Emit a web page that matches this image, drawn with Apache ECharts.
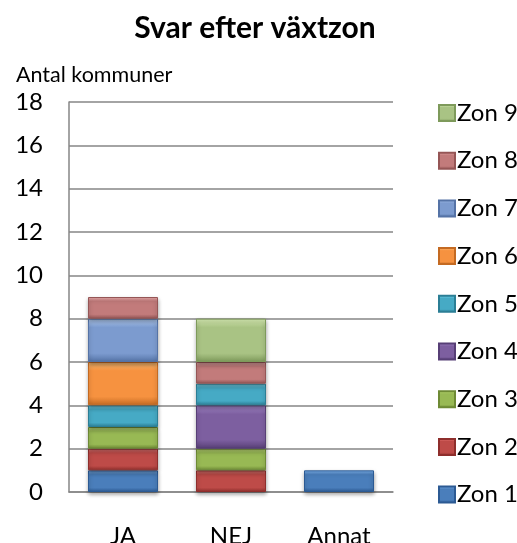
<!DOCTYPE html>
<html>
<head>
<meta charset="utf-8">
<script src="https://cdn.jsdelivr.net/npm/echarts@6/dist/echarts.min.js"></script>
<style>
  html, body { margin: 0; padding: 0; background: #fff; }
  #chart { width: 517px; height: 543px; }
</style>
</head>
<body>
<div id="chart"></div>
<script>
// kategorier och värden per zon
const categories = ['JA', 'NEJ', 'Annat'];
const zoneNames = ['Zon 1', 'Zon 2', 'Zon 3', 'Zon 4', 'Zon 5', 'Zon 6', 'Zon 7', 'Zon 8', 'Zon 9'];
const zon1 = [1, 0, 1];
const zon2 = [1, 1, 0];
const zon3 = [1, 1, 0];
const zon4 = [0, 2, 0];
const zon5 = [1, 1, 0];
const zon6 = [2, 0, 0];
const zon7 = [2, 0, 0];
const zon8 = [1, 1, 0];
const zon9 = [0, 2, 0];
const zoneValues = [zon1, zon2, zon3, zon4, zon5, zon6, zon7, zon8, zon9];
const yTicks = [0, 2, 4, 6, 8, 10, 12, 14, 16, 18];

// bas, ljus kant, mörk kant
const palette = [
  ['#4A7EBB', '#7DB3EE', '#2C5A93'],
  ['#BE4B48', '#F07E7B', '#8E2E2C'],
  ['#98B954', '#CDEA82', '#6E8A35'],
  ['#7D5FA0', '#AD8ED3', '#573F76'],
  ['#46AAC5', '#7EDEF3', '#2B7E95'],
  ['#F69240', '#FFC176', '#C46A22'],
  ['#7C9BCF', '#B8D2F8', '#5573A6'],
  ['#C27B7B', '#EEAEAE', '#955656'],
  ['#A9C384', '#D8EEB4', '#7E9A5B']
];

const font = 'Lato, "Liberation Sans", sans-serif';

const chart = echarts.init(document.getElementById('chart'), null, { renderer: 'canvas' });

const series = zoneNames.map((name, i) => ({
  name: name,
  type: 'bar',
  stack: 'total',
  barWidth: 70,
  data: zoneValues[i].map(v => (v === 0 ? null : v)),
  itemStyle: {
    color: new echarts.graphic.LinearGradient(0, 0, 0, 1, [
      { offset: 0, color: palette[i][1] },
      { offset: 0.2, color: palette[i][0] },
      { offset: 0.8, color: palette[i][0] },
      { offset: 1, color: palette[i][2] }
    ]),
    borderColor: palette[i][2],
    borderWidth: 1,
    shadowColor: 'rgba(0,0,0,0.35)',
    shadowBlur: 4,
    shadowOffsetY: 2
  }
}));

chart.setOption({
  animation: false,
  title: [
    {
      text: 'Svar efter växtzon',
      left: 250,
      textAlign: 'center',
      top: 8,
      textStyle: { fontFamily: font, fontWeight: 'bold', fontSize: 30, color: '#000' }
    },
    {
      text: 'Antal kommuner',
      left: 11,
      top: 59,
      textStyle: { fontFamily: font, fontWeight: 'normal', fontSize: 21.5, color: '#000' }
    }
  ],
  legend: {
    orient: 'vertical',
    left: 433,
    top: 96,
    data: zoneNames.slice().reverse(),
    itemWidth: 16,
    itemHeight: 16,
    itemGap: 23.7,
    icon: 'rect',
    textStyle: { fontFamily: font, fontSize: 24, color: '#000', lineHeight: 24, padding: [0, 0, 0, -3] }
  },
  grid: { left: 69, right: 124, top: 102, bottom: 51, containLabel: false, outerBoundsMode: 'none' },
  xAxis: {
    type: 'category',
    data: categories,
    axisLine: { lineStyle: { color: '#868686', width: 1.5 } },
    axisTick: { show: false },
    axisLabel: { fontFamily: font, fontSize: 24, color: '#000', margin: 32 }
  },
  yAxis: {
    type: 'value',
    min: yTicks[0],
    max: yTicks[yTicks.length - 1],
    interval: 2,
    axisLine: { show: true, lineStyle: { color: '#868686', width: 1.5 } },
    axisTick: { show: false },
    splitLine: { lineStyle: { color: '#868686', width: 1.5 } },
    axisLabel: { fontFamily: font, fontSize: 24, color: '#000', margin: 26 }
  },
  series: series
});
</script>
</body>
</html>
